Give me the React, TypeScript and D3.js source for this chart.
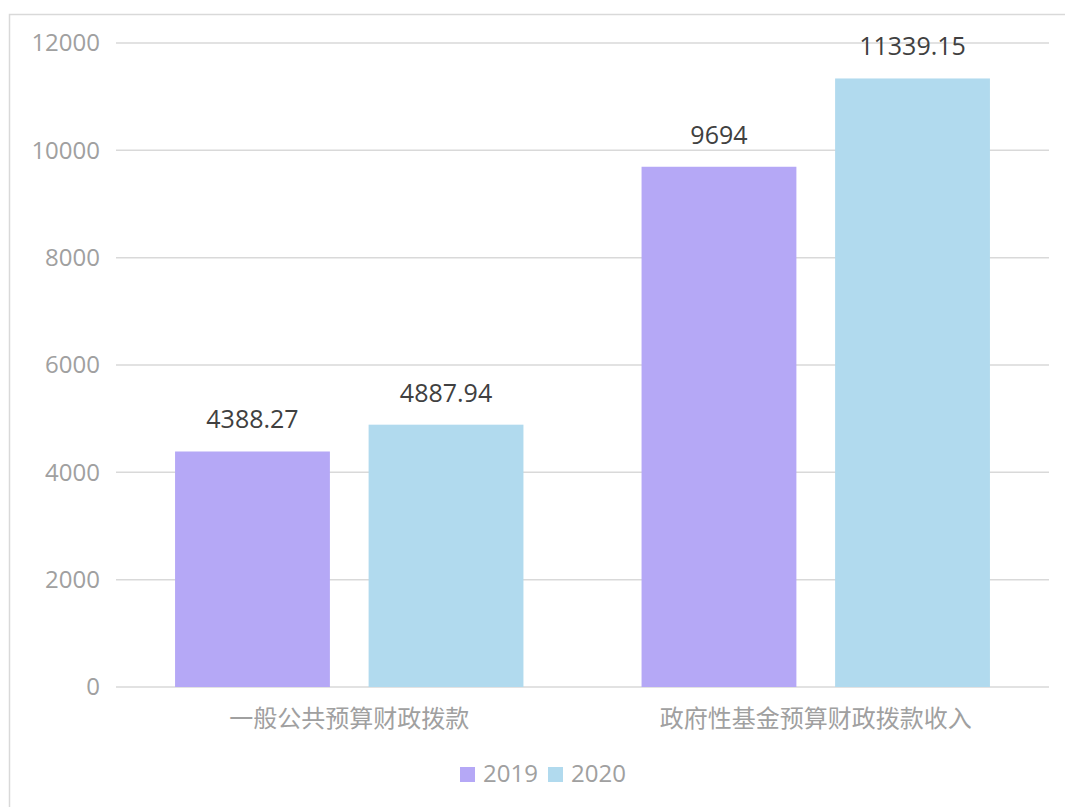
import React from "react";
import * as d3 from "d3";

const categories = ["一般公共预算财政拨款", "政府性基金预算财政拨款收入"];
const seriesNames = ["2019", "2020"];
const values2019 = [4388.27, 9694];
const values2020 = [4887.94, 11339.15];
const valueLabels2019 = ["4388.27", "9694"];
const valueLabels2020 = ["4887.94", "11339.15"];
const yTicks = [0, 2000, 4000, 6000, 8000, 10000, 12000];
const colors = ["#b5a8f6", "#b1daee"];

const W = 1065;
const H = 807;
const left = 116;
const right = 1049;
const top = 43;
const bottom = 687;

export default function App() {
  const x0 = d3.scaleBand<string>().domain(categories).range([left, right]).paddingInner(0.2532).paddingOuter(0.1266);
  const x1 = d3.scaleBand<string>().domain(seriesNames).range([0, x0.bandwidth()]).paddingInner(0.2);
  const y = d3.scaleLinear().domain([0, 12000]).range([bottom, top]);
  const series = [
    { name: seriesNames[0], values: values2019, labels: valueLabels2019, color: colors[0] },
    { name: seriesNames[1], values: values2020, labels: valueLabels2020, color: colors[1] },
  ];
  const numFont = "'Open Sans', 'Noto Sans', sans-serif";
  const cjkFont = "'Noto Sans CJK SC', sans-serif";
  return (
    <svg width={W} height={H} style={{ position: "absolute", left: 0, top: 0, background: "#fff" }}>
      <rect x={9.5} y={14.5} width={W + 10} height={H + 10} fill="#fff" stroke="#d9d9d9" strokeWidth={1.5} />
      {yTicks.map((t) => (
        <g key={t}>
          <line x1={left} x2={right} y1={y(t)} y2={y(t)} stroke="#d9d9d9" strokeWidth={1.5} />
          <text x={100} y={y(t)} dy="0.35em" textAnchor="end" fontSize={24} fill="#a0a0a0" fontFamily={numFont}>
            {t}
          </text>
        </g>
      ))}
      {categories.map((c, ci) => (
        <g key={c} transform={`translate(${x0(c)},0)`}>
          {series.map((s) => (
            <g key={s.name}>
              <rect
                x={x1(s.name)}
                y={y(s.values[ci])}
                width={x1.bandwidth()}
                height={bottom - y(s.values[ci])}
                fill={s.color}
              />
              <text
                x={(x1(s.name) as number) + x1.bandwidth() / 2}
                y={y(s.values[ci]) - 23}
                textAnchor="middle"
                fontSize={25}
                fill="#404040"
                fontFamily={numFont}
              >
                {s.labels[ci]}
              </text>
            </g>
          ))}
          <text
            x={x0.bandwidth() / 2}
            y={727}
            textAnchor="middle"
            fontSize={24}
            fill="#a0a0a0"
            fontFamily={cjkFont}
          >
            {c}
          </text>
        </g>
      ))}
      <g fontFamily={numFont} fontSize={24} fill="#a0a0a0">
        <rect x={460} y={767} width={15} height={15} fill={colors[0]} />
        <text x={483} y={774} dy="0.35em">{seriesNames[0]}</text>
        <rect x={548} y={767} width={15} height={15} fill={colors[1]} />
        <text x={571} y={774} dy="0.35em">{seriesNames[1]}</text>
      </g>
    </svg>
  );
}
